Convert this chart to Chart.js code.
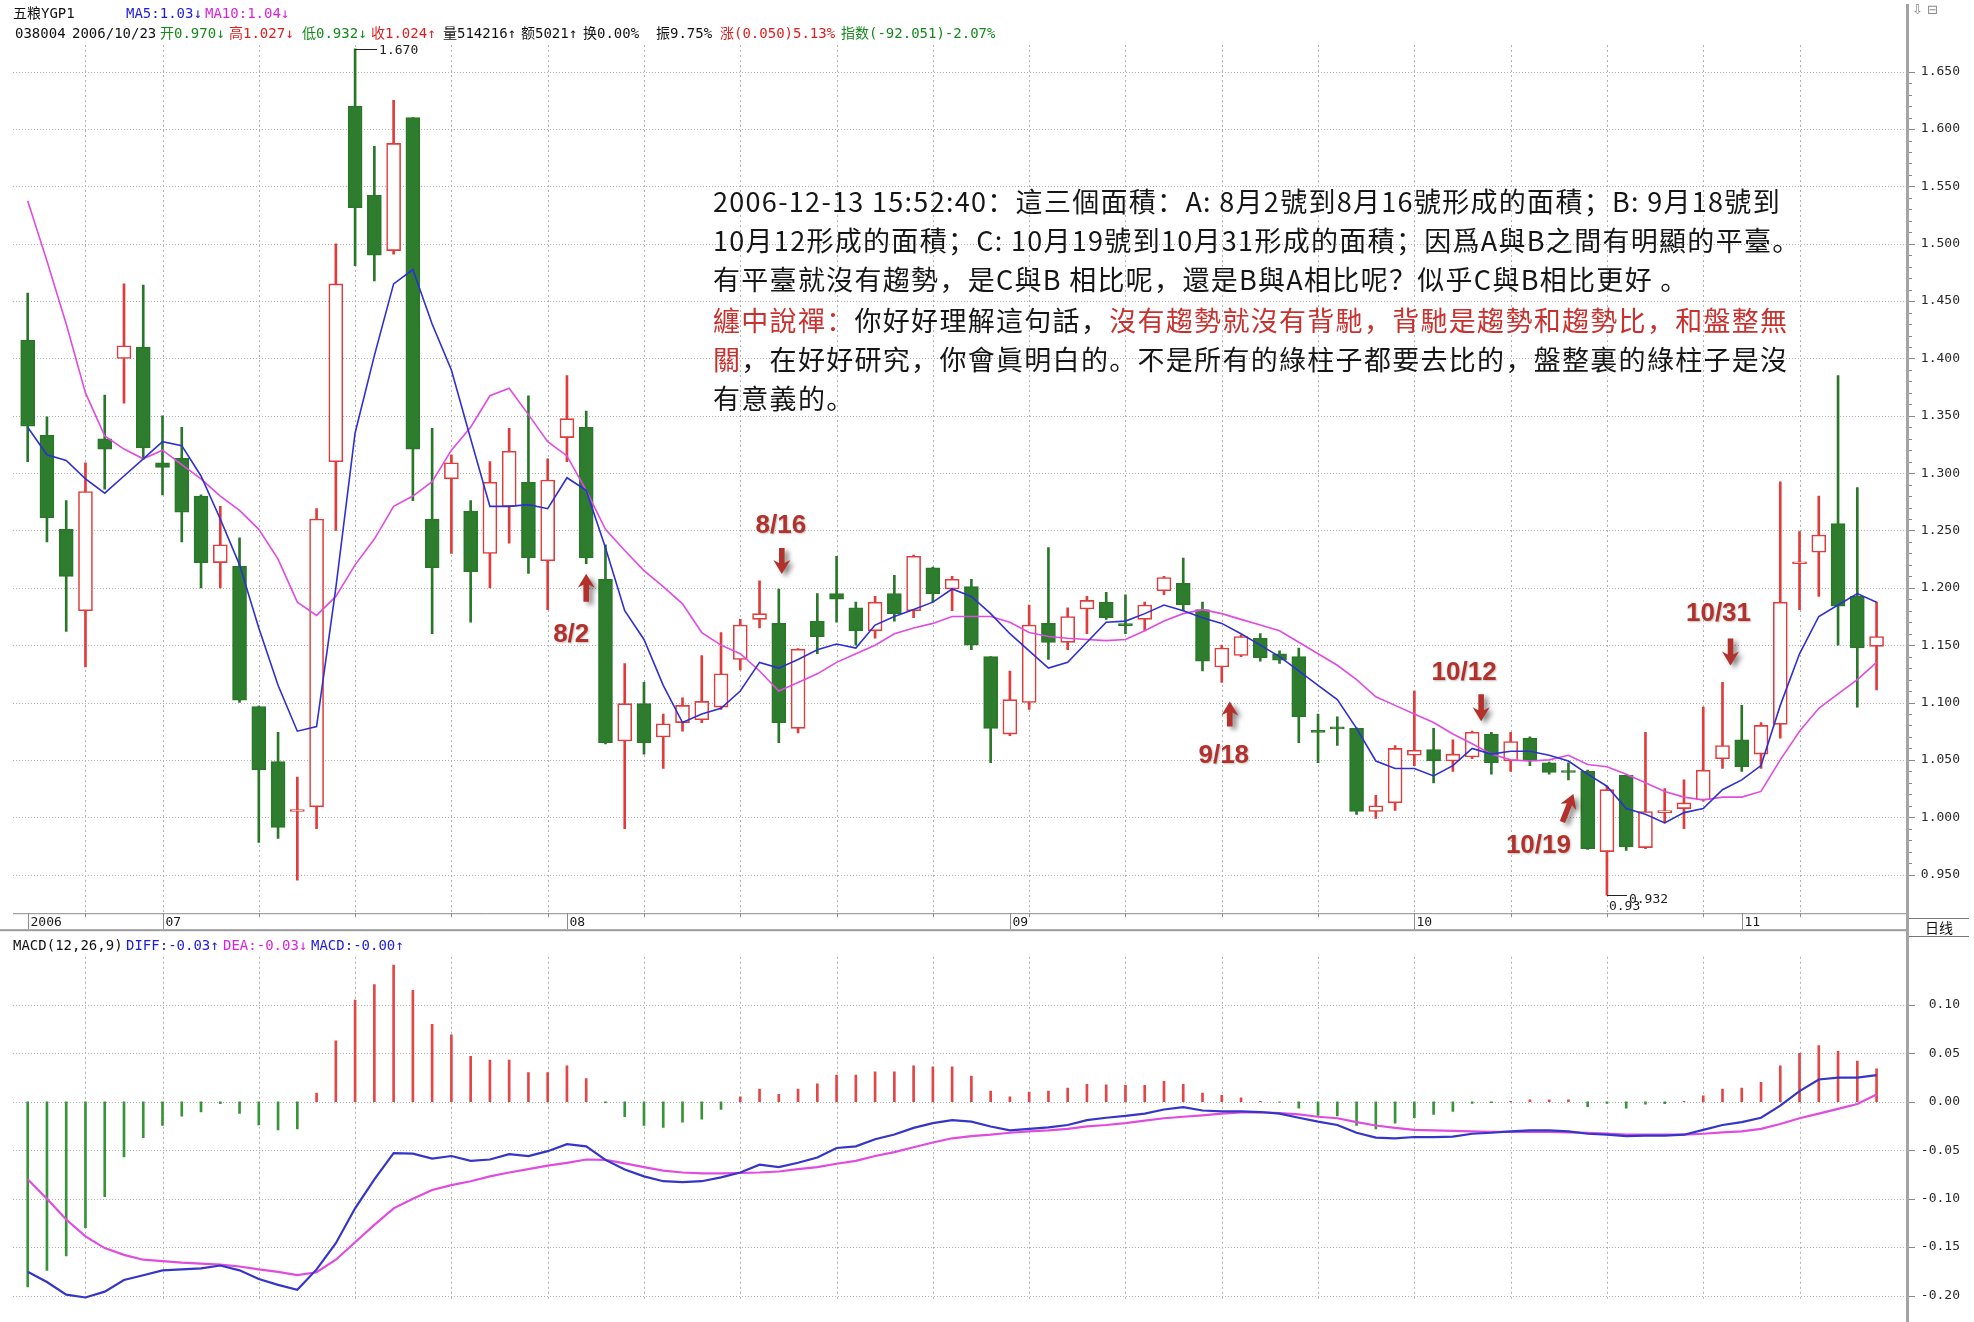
<!DOCTYPE html>
<html lang="zh">
<head>
<meta charset="utf-8">
<title>五粮YGP1 日线 K线与MACD</title>
<script src="https://cdn.jsdelivr.net/npm/chart.js@4.4.1/dist/chart.umd.min.js"></script>
<style>
html,body{margin:0;padding:0;background:#fff;}
#wrap{position:relative;width:1974px;height:1322px;overflow:hidden;background:#fff;}
#cPrice{position:absolute;left:0;top:0;}
#cMacd{position:absolute;left:0;top:935px;}
.t{position:absolute;white-space:nowrap;font-family:"DejaVu Sans Mono","Noto Sans CJK SC",monospace;font-size:14px;line-height:16px;color:#111;}
.note{position:absolute;left:713px;white-space:nowrap;font-family:"Noto Sans CJK TC","Noto Sans CJK SC",sans-serif;font-size:27px;line-height:30px;color:#161616;}
.r{color:#c8312e;}
.blue{color:#1c1cdc;} .mag{color:#dc22dc;} .grn{color:#14891c;} .red{color:#e01e1e;}
#axisLine{position:absolute;left:1906px;top:4px;width:3px;height:1318px;background:#a4a4a4;}
#rixian{position:absolute;left:1909px;top:918px;width:60px;height:17px;border-top:1px solid #777;border-bottom:1px solid #777;font-family:"Noto Sans CJK SC",sans-serif;font-size:14px;line-height:17px;text-align:center;color:#111;}
#icons{position:absolute;left:1912px;top:2px;font-family:"DejaVu Sans",sans-serif;font-size:13px;color:#888;}
</style>
</head>
<body>
<div id="wrap">
<canvas id="cPrice" width="1974" height="935"></canvas>
<canvas id="cMacd" width="1974" height="387"></canvas>

<div id="axisLine"></div>
<div id="icons">⇩ ⊟</div>
<div id="rixian">日线</div>

<div class="t" style="left:13px;top:5px;">五粮YGP1</div>
<div class="t blue" style="left:126px;top:5px;">MA5:1.03↓</div>
<div class="t mag" style="left:205px;top:5px;">MA10:1.04↓</div>

<div class="t" style="left:15px;top:25px;">038004</div>
<div class="t" style="left:72px;top:25px;">2006/10/23</div>
<div class="t grn" style="left:160px;top:25px;">开0.970↓</div>
<div class="t red" style="left:229px;top:25px;">高1.027↓</div>
<div class="t grn" style="left:302px;top:25px;">低0.932↓</div>
<div class="t red" style="left:371px;top:25px;">收1.024↑</div>
<div class="t" style="left:443px;top:25px;">量514216↑</div>
<div class="t" style="left:521px;top:25px;">额5021↑</div>
<div class="t" style="left:583px;top:25px;">换0.00%</div>
<div class="t" style="left:656px;top:25px;">振9.75%</div>
<div class="t red" style="left:720px;top:25px;">涨(0.050)5.13%</div>
<div class="t grn" style="left:841px;top:25px;">指数(-92.051)-2.07%</div>

<div class="t" style="left:13px;top:937px;">MACD(12,26,9)</div>
<div class="t blue" style="left:126px;top:937px;">DIFF:-0.03↑</div>
<div class="t mag" style="left:223px;top:937px;">DEA:-0.03↓</div>
<div class="t blue" style="left:311px;top:937px;">MACD:-0.00↑</div>

<div class="note" id="n1" style="top:186px;">2006-12-13 15:52:40：這三個面積：A: 8月2號到8月16號形成的面積；B: 9月18號到</div>
<div class="note" id="n2" style="top:225px;">10月12形成的面積；C: 10月19號到10月31形成的面積；因爲A與B之間有明顯的平臺。</div>
<div class="note" id="n3" style="top:264px;">有平臺就沒有趨勢，是C與B 相比呢，還是B與A相比呢？似乎C與B相比更好 。</div>
<div class="note" id="n4" style="top:305px;"><span class="r">纏中說禪：</span>你好好理解這句話，<span class="r">沒有趨勢就沒有背馳，背馳是趨勢和趨勢比，和盤整無</span></div>
<div class="note" id="n5" style="top:344px;"><span class="r">關</span>，在好好研究，你會眞明白的。不是所有的綠柱子都要去比的，盤整裏的綠柱子是沒</div>
<div class="note" id="n6" style="top:383px;">有意義的。</div>
</div>

<script>
// ---------------- DATA ----------------
const opens = [1.416,1.333,1.251,1.18,1.33,1.40,1.41,1.309,1.313,1.28,
1.222,1.219,1.0965,1.0485,1.005,1.009,1.31,1.62,1.5425,1.494,
1.61,1.26,1.295,1.267,1.23,1.271,1.292,1.2235,1.331,1.34,
1.2075,1.0665,1.099,1.07,1.0825,1.085,1.096,1.1375,1.1725,1.169,
1.0775,1.171,1.195,1.1825,1.1625,1.195,1.18,1.2175,1.199,1.201,
1.14,1.0725,1.10,1.169,1.1525,1.1815,1.1875,1.168,1.1725,1.1975,
1.204,1.181,1.131,1.141,1.156,1.1425,1.14,1.075,1.078,1.0775,
1.005,1.0125,1.054,1.059,1.049,1.0525,1.0725,1.049,1.069,1.0475,
1.0395,1.04,0.970,1.0365,0.9735,1.004,1.0075,1.015,1.051,1.0675,
1.055,1.081,1.221,1.231,1.256,1.1925,1.149];

const closes = [1.341,1.261,1.21,1.284,1.321,1.411,1.322,1.305,1.266,1.222,
1.2375,1.102,1.0415,0.991,1.006,1.26,1.465,1.5315,1.49,1.5875,
1.321,1.2175,1.309,1.214,1.292,1.319,1.226,1.294,1.3475,1.226,
1.065,1.099,1.065,1.0815,1.0975,1.101,1.125,1.1675,1.1775,1.0825,
1.1465,1.1575,1.19,1.1625,1.1875,1.1775,1.2275,1.195,1.2075,1.15,
1.0775,1.1025,1.1675,1.1525,1.175,1.189,1.174,1.167,1.185,1.209,
1.185,1.136,1.1475,1.1575,1.139,1.137,1.0875,1.074,1.077,1.005,
1.01,1.06,1.0585,1.049,1.055,1.074,1.0475,1.066,1.049,1.039,
1.039,0.9725,1.024,0.974,1.005,1.0045,1.0125,1.041,1.0625,1.044,
1.08,1.1875,1.2215,1.246,1.184,1.1475,1.1575];

const highs = [1.457,1.349,1.276,1.309,1.368,1.465,1.464,1.35,1.34,1.281,
1.271,1.2435,1.097,1.074,1.035,1.269,1.50,1.67,1.585,1.625,
1.61,1.339,1.316,1.276,1.31,1.339,1.3675,1.3125,1.385,1.354,
1.2375,1.134,1.1175,1.09,1.104,1.141,1.161,1.1725,1.206,1.199,
1.147,1.195,1.2275,1.1875,1.1925,1.211,1.2285,1.218,1.21,1.2075,
1.14,1.1275,1.185,1.235,1.1825,1.1925,1.196,1.194,1.1875,1.21,
1.226,1.1875,1.15,1.159,1.16,1.145,1.1475,1.09,1.0875,1.078,
1.019,1.0625,1.11,1.0775,1.0675,1.075,1.074,1.074,1.07,1.048,
1.0475,1.041,1.027,1.037,1.074,1.025,1.0325,1.096,1.1175,1.0975,
1.0825,1.2925,1.249,1.28,1.385,1.2875,1.1875];

const lows = [1.31,1.24,1.162,1.131,1.286,1.361,1.312,1.281,1.24,1.20,
1.20,1.10,0.978,0.9815,0.945,0.99,1.25,1.481,1.4675,1.491,
1.276,1.16,1.23,1.17,1.20,1.239,1.2125,1.181,1.31,1.221,
1.064,0.99,1.055,1.0425,1.075,1.0825,1.094,1.1285,1.165,1.065,
1.0735,1.1425,1.17,1.15,1.156,1.171,1.174,1.1875,1.18,1.146,
1.0475,1.071,1.094,1.1375,1.146,1.16,1.1725,1.16,1.1625,1.194,
1.18,1.1275,1.1175,1.14,1.136,1.134,1.065,1.0475,1.0625,1.0025,
0.999,1.006,1.045,1.03,1.04,1.051,1.0375,1.04,1.045,1.0375,
1.0325,0.972,0.932,0.971,0.9725,0.995,0.99,1.014,1.0425,1.04,
1.0425,1.069,1.181,1.1925,1.15,1.096,1.111];

const ma5 = [1.34,1.316,1.311,1.295,1.2825,1.2975,1.3125,1.3275,1.324,1.2975,
1.26,1.22,1.165,1.115,1.075,1.079,1.20,1.335,1.4025,1.465,
1.4775,1.43,1.39,1.33,1.271,1.271,1.2725,1.269,1.296,1.285,
1.235,1.18,1.155,1.115,1.0825,1.09,1.095,1.11,1.135,1.13,
1.1375,1.146,1.151,1.1475,1.1675,1.175,1.181,1.1875,1.199,1.1925,
1.1775,1.16,1.145,1.13,1.135,1.1525,1.17,1.171,1.1775,1.185,
1.18,1.174,1.169,1.16,1.15,1.14,1.1275,1.115,1.1025,1.0775,
1.049,1.0425,1.0425,1.036,1.045,1.06,1.055,1.0575,1.0575,1.054,
1.049,1.0375,1.027,1.0075,1.0025,0.995,1.004,1.0075,1.024,1.0325,
1.045,1.0975,1.1425,1.175,1.185,1.195,1.1875];

const ma10 = [1.5375,1.485,1.43,1.37,1.3325,1.321,1.3125,1.32,1.3075,1.295,
1.28,1.2675,1.251,1.225,1.1875,1.176,1.1925,1.22,1.2425,1.271,
1.28,1.2925,1.32,1.34,1.3675,1.374,1.351,1.3275,1.315,1.285,
1.251,1.2325,1.215,1.201,1.186,1.161,1.15,1.1425,1.1275,1.11,
1.1175,1.125,1.135,1.1425,1.15,1.16,1.165,1.169,1.175,1.175,
1.175,1.17,1.161,1.1575,1.156,1.155,1.154,1.155,1.1625,1.171,
1.1775,1.181,1.1775,1.1725,1.1675,1.1625,1.1525,1.1425,1.1325,1.12,
1.105,1.0975,1.09,1.0825,1.0725,1.064,1.055,1.05,1.049,1.05,
1.054,1.046,1.044,1.0375,1.03,1.0225,1.0175,1.015,1.0175,1.0175,
1.0225,1.05,1.075,1.095,1.1075,1.12,1.135];

const macdHist = [-0.191,-0.174,-0.159,-0.130,-0.098,-0.057,-0.037,-0.0245,-0.015,-0.0106,
-0.002,-0.012,-0.024,-0.029,-0.028,0.009,0.063,0.105,0.121,0.141,
0.115,0.080,0.069,0.047,0.043,0.043,0.030,0.030,0.037,0.024,
-0.001,-0.0155,-0.0245,-0.0265,-0.021,-0.018,-0.008,0.005,0.013,0.0076,
0.013,0.0185,0.0275,0.0275,0.031,0.031,0.037,0.036,0.036,0.0265,
0.011,0.005,0.010,0.011,0.014,0.018,0.0175,0.017,0.017,0.021,
0.018,0.009,0.0066,0.004,0.0005,-0.0005,-0.0066,-0.014,-0.0146,-0.0245,
-0.028,-0.022,-0.0165,-0.013,-0.010,-0.0017,-0.001,0.0005,0.002,0.002,
0.002,-0.005,-0.0017,-0.0066,-0.0026,-0.002,0.0005,0.006,0.013,0.014,
0.020,0.037,0.050,0.058,0.052,0.042,0.034];

const diffLine = [-0.1755,-0.186,-0.199,-0.202,-0.196,-0.184,-0.179,-0.174,-0.173,-0.172,
-0.169,-0.174,-0.183,-0.189,-0.194,-0.173,-0.146,-0.110,-0.080,-0.053,
-0.0536,-0.0586,-0.056,-0.061,-0.0596,-0.054,-0.056,-0.051,-0.0437,-0.046,
-0.060,-0.070,-0.077,-0.082,-0.083,-0.082,-0.078,-0.073,-0.065,-0.0675,
-0.063,-0.0576,-0.0477,-0.046,-0.0387,-0.0338,-0.027,-0.022,-0.019,-0.0205,
-0.0255,-0.0295,-0.028,-0.0265,-0.024,-0.019,-0.0165,-0.0146,-0.0122,-0.008,
-0.0056,-0.009,-0.010,-0.010,-0.0106,-0.0122,-0.0165,-0.0205,-0.024,-0.032,
-0.037,-0.0377,-0.0364,-0.0364,-0.036,-0.033,-0.032,-0.0305,-0.0295,-0.0295,
-0.0305,-0.033,-0.034,-0.0354,-0.035,-0.035,-0.034,-0.029,-0.024,-0.021,
-0.0165,-0.004,0.011,0.023,0.025,0.025,0.0275];

const deaLine = [-0.080,-0.100,-0.1215,-0.139,-0.151,-0.158,-0.163,-0.1645,-0.166,-0.167,
-0.168,-0.170,-0.173,-0.1755,-0.179,-0.176,-0.163,-0.145,-0.127,-0.110,
-0.100,-0.091,-0.086,-0.082,-0.077,-0.073,-0.0695,-0.066,-0.063,-0.0596,
-0.060,-0.0636,-0.0675,-0.071,-0.073,-0.074,-0.074,-0.0735,-0.073,-0.072,
-0.0695,-0.0675,-0.064,-0.061,-0.056,-0.052,-0.047,-0.042,-0.0377,-0.0354,
-0.034,-0.032,-0.0305,-0.0295,-0.028,-0.0255,-0.024,-0.022,-0.0195,-0.017,
-0.0155,-0.014,-0.0122,-0.011,-0.011,-0.0116,-0.013,-0.0155,-0.017,-0.021,
-0.0245,-0.027,-0.029,-0.0295,-0.030,-0.0305,-0.031,-0.031,-0.031,-0.031,
-0.0315,-0.032,-0.0328,-0.034,-0.034,-0.034,-0.034,-0.033,-0.0315,-0.0305,
-0.028,-0.023,-0.017,-0.0122,-0.0073,-0.0023,0.0076];

const priceTicks = [0.95,1.00,1.05,1.10,1.15,1.20,1.25,1.30,1.35,1.40,1.45,1.50,1.55,1.60,1.65];
const priceTickLabels = ['0.950','1.000','1.050','1.100','1.150','1.200','1.250','1.300','1.350','1.400','1.450','1.500','1.550','1.600','1.650'];
const macdTicks = [-0.20,-0.15,-0.10,-0.05,0.00,0.05,0.10];
const macdTickLabels = ['-0.20','-0.15','-0.10','-0.05','0.00','0.05','0.10'];

const monthLabels = ['2006','07','08','09','10','11'];
const monthStart = [0,7,28,51,72,89];
const gridIdx = [3,7,12,17,22,27,32,37,42,47,52,57,62,67,72,77,82,87,92];

const annoText = ['8/2','8/16','9/18','10/12','10/19','10/31'];
const annoIdx = [29,39,62,75,80,88];
const annoSide = ['low','high','low','high','low','high'];
// style offsets (px) relative to the anchored candle extreme
const annoTip = [[0,10],[3,-15],[8,19],[9,-10],[5,14],[8,-17]];
const annoTail = [[0,38],[3,-41],[8,44],[9,-37],[-6,42],[8,-44]];
const annoLbl = [[-15,71],[2,-63],[2,73],[-8,-58],[-30,66],[-4,-69]];

const peakIdx = 17, troughIdx = 82;

// ---------------- STYLE ----------------
const RED = '#e03c3c', GREEN = '#2a772a', GREEN_FILL = '#2e7c2e';
const ANNO = '#b3312a';
const idx = opens.map((_, i) => i);
const isUp = idx.map(i => closes[i] >= opens[i]);
const toXY = arr => arr.map((v, i) => ({x: i, y: v}));

function xScale() {
  return {type: 'linear', min: -0.763, max: 97.58, offset: false, display: false};
}
function yScale(min, max, ticks, labels, pad) {
  return {
    type: 'linear', position: 'right', min: min, max: max,
    grid: {display: false, drawTicks: false}, border: {display: false},
    afterBuildTicks: s => { s.ticks = ticks.map(v => ({value: v})); },
    afterFit: s => { s.width = 53; },
    ticks: {autoSkip: false, crossAlign: 'far', padding: pad, color: '#2a2a2a',
      font: {family: 'DejaVu Sans Mono', size: 13},
      callback: (v, i) => labels[i]}
  };
}

function drawGrid(chart, yt) {
  const {ctx, chartArea: a, scales: {x, y}} = chart;
  ctx.save();
  ctx.strokeStyle = '#b2b2b2'; ctx.lineWidth = 1;
  ctx.setLineDash([1, 2]);
  yt.forEach(v => {
    const py = Math.round(y.getPixelForValue(v)) + 0.5;
    ctx.beginPath(); ctx.moveTo(a.left, py); ctx.lineTo(a.right, py); ctx.stroke();
  });
  ctx.setLineDash([2, 3]);
  gridIdx.forEach(i => {
    const px = Math.round(x.getPixelForValue(i)) + 0.5;
    ctx.beginPath(); ctx.moveTo(px, a.top); ctx.lineTo(px, a.bottom); ctx.stroke();
  });
  ctx.restore();
}

function drawAxisTicks(chart, yt, minor) {
  const {ctx, chartArea: a, scales: {y}} = chart;
  ctx.save();
  ctx.strokeStyle = '#8a8a8a'; ctx.lineWidth = 1;
  yt.forEach((v, k) => {
    const py = Math.round(y.getPixelForValue(v)) + 0.5;
    ctx.beginPath(); ctx.moveTo(a.right + 2, py); ctx.lineTo(a.right + 8, py); ctx.stroke();
    if (minor && k < yt.length - 1) {
      const step = (yt[k + 1] - v) / 5;
      for (let m = 1; m < 5; m++) {
        const pm = Math.round(y.getPixelForValue(v + step * m)) + 0.5;
        ctx.beginPath(); ctx.moveTo(a.right + 2, pm); ctx.lineTo(a.right + 5, pm); ctx.stroke();
      }
    }
  });
  ctx.restore();
}

function drawArrow(ctx, sx, sy, tx, ty) {
  const ang = Math.atan2(ty - sy, tx - sx);
  const len = Math.hypot(tx - sx, ty - sy);
  ctx.save();
  ctx.translate(tx, ty); ctx.rotate(ang);
  ctx.beginPath();
  ctx.moveTo(0, 0);
  ctx.lineTo(-14, -8.5);
  ctx.lineTo(-11, -2.8);
  ctx.lineTo(-len, -2.8);
  ctx.lineTo(-len, 2.8);
  ctx.lineTo(-11, 2.8);
  ctx.lineTo(-14, 8.5);
  ctx.closePath();
  ctx.fill();
  ctx.restore();
}

const pricePlugin = {
  id: 'priceDeco',
  beforeDatasetsDraw(chart) { drawGrid(chart, priceTicks); },
  afterDatasetsDraw(chart) {
    const {ctx, scales: {x, y}} = chart;
    ctx.save();
    // peak label
    ctx.strokeStyle = '#222'; ctx.lineWidth = 1; ctx.fillStyle = '#222';
    ctx.font = '13px "DejaVu Sans Mono"'; ctx.textBaseline = 'middle'; ctx.textAlign = 'left';
    let px = x.getPixelForValue(peakIdx), py = Math.round(y.getPixelForValue(highs[peakIdx])) + 0.5;
    ctx.beginPath(); ctx.moveTo(px, py); ctx.lineTo(px + 22, py); ctx.stroke();
    ctx.fillText(highs[peakIdx].toFixed(3), px + 24, py + 1);
    // trough label
    px = x.getPixelForValue(troughIdx); py = Math.round(y.getPixelForValue(lows[troughIdx])) + 0.5;
    ctx.beginPath(); ctx.moveTo(px, py); ctx.lineTo(px + 20, py); ctx.stroke();
    ctx.fillText(lows[troughIdx].toFixed(3), px + 22, py + 4);
    ctx.fillText(lows[troughIdx].toFixed(2), px + 2, py + 11);
    // red annotations
    annoText.forEach((t, k) => {
      const i = annoIdx[k];
      const ax = x.getPixelForValue(i);
      const ay = y.getPixelForValue(annoSide[k] === 'low' ? lows[i] : highs[i]);
      ctx.save();
      ctx.fillStyle = ANNO;
      ctx.shadowColor = 'rgba(0,0,0,0.45)'; ctx.shadowBlur = 5; ctx.shadowOffsetX = 4; ctx.shadowOffsetY = 3;
      drawArrow(ctx, ax + annoTail[k][0], ay + annoTail[k][1], ax + annoTip[k][0], ay + annoTip[k][1]);
      ctx.shadowColor = 'rgba(0,0,0,0.25)'; ctx.shadowBlur = 2; ctx.shadowOffsetX = 1; ctx.shadowOffsetY = 1;
      ctx.font = 'bold 26px "Liberation Sans", Arial, sans-serif';
      ctx.textAlign = 'center'; ctx.textBaseline = 'middle';
      ctx.fillText(t, ax + annoLbl[k][0], ay + annoLbl[k][1]);
      ctx.restore();
    });
    ctx.restore();
  },
  afterDraw(chart) {
    const {ctx, chartArea: a, scales: {x}} = chart;
    drawAxisTicks(chart, priceTicks, true);
    ctx.save();
    const yb = a.bottom;
    ctx.strokeStyle = '#8c8c8c'; ctx.lineWidth = 1;
    ctx.beginPath(); ctx.moveTo(a.left, yb + 0.5); ctx.lineTo(a.right, yb + 0.5); ctx.stroke();
    gridIdx.forEach(i => {
      const px = Math.round(x.getPixelForValue(i)) + 0.5;
      ctx.beginPath(); ctx.moveTo(px, yb); ctx.lineTo(px, yb + 4); ctx.stroke();
    });
    ctx.fillStyle = '#1a1a1a'; ctx.font = '13px "DejaVu Sans Mono"';
    ctx.textAlign = 'left'; ctx.textBaseline = 'middle';
    monthLabels.forEach((m, k) => {
      const px = Math.round(x.getPixelForValue(monthStart[k])) + 0.5;
      ctx.beginPath(); ctx.moveTo(px, yb); ctx.lineTo(px, yb + 16); ctx.stroke();
      ctx.fillText(m, px + 2, yb + 9);
    });
    ctx.fillStyle = '#9a9a9a';
    ctx.fillRect(0, yb + 16, a.right, 2);
    ctx.restore();
  }
};

const macdPlugin = {
  id: 'macdDeco',
  beforeDatasetsDraw(chart) { drawGrid(chart, macdTicks); },
  afterDraw(chart) { drawAxisTicks(chart, macdTicks, false); }
};

new Chart(document.getElementById('cPrice'), {
  type: 'bar',
  data: {
    datasets: [
      {type: 'line', label: 'MA5', data: toXY(ma5), borderColor: '#2f2fd2', borderWidth: 1.6,
        pointRadius: 0, tension: 0, order: 1},
      {type: 'line', label: 'MA10', data: toXY(ma10), borderColor: '#e04ce0', borderWidth: 1.6,
        pointRadius: 0, tension: 0, order: 1},
      {type: 'bar', label: 'K', data: idx.map(i => ({x: i, y: [opens[i], closes[i]]})),
        backgroundColor: idx.map(i => isUp[i] ? '#ffffff' : GREEN_FILL),
        borderColor: idx.map(i => isUp[i] ? RED : GREEN),
        borderWidth: 1.6, borderSkipped: false, barThickness: 14, grouped: false,
        minBarLength: 2, order: 2},
      {type: 'bar', label: 'wick', data: idx.map(i => ({x: i, y: [lows[i], highs[i]]})),
        backgroundColor: idx.map(i => isUp[i] ? RED : GREEN),
        borderWidth: 0, barThickness: 2, grouped: false, order: 3}
    ]
  },
  options: {
    responsive: false, animation: false, devicePixelRatio: 1,
    layout: {padding: {left: 13, right: 14, top: 45, bottom: 18}},
    plugins: {legend: {display: false}, tooltip: {enabled: false}},
    scales: {x: xScale(), y: yScale(0.9163, 1.6733, priceTicks, priceTickLabels, 14)}
  },
  plugins: [pricePlugin]
});

new Chart(document.getElementById('cMacd'), {
  type: 'bar',
  data: {
    datasets: [
      {type: 'line', label: 'DIFF', data: toXY(diffLine), borderColor: '#3535c8', borderWidth: 2.2,
        pointRadius: 0, tension: 0, order: 1},
      {type: 'line', label: 'DEA', data: toXY(deaLine), borderColor: '#e04ce0', borderWidth: 2.2,
        pointRadius: 0, tension: 0, order: 1},
      {type: 'bar', label: 'MACD', data: toXY(macdHist),
        backgroundColor: macdHist.map(v => v >= 0 ? '#e24646' : '#389438'),
        barThickness: 2, grouped: false, order: 2}
    ]
  },
  options: {
    responsive: false, animation: false, devicePixelRatio: 1,
    layout: {padding: {left: 13, right: 14, top: 16, bottom: 18}},
    plugins: {legend: {display: false}, tooltip: {enabled: false}},
    scales: {x: xScale(), y: yScale(-0.2048, 0.1496, macdTicks, macdTickLabels, 14)}
  },
  plugins: [macdPlugin]
});

// fit annotation text width
function fitNotes() {
  const n1 = document.getElementById('n1');
  document.querySelectorAll('.note').forEach(el => el.style.letterSpacing = '0px');
  const w = n1.getBoundingClientRect().width;
  const n = Array.from(n1.textContent).length;
  const ls = (1068 - w) / n;
  document.querySelectorAll('.note').forEach(el => el.style.letterSpacing = ls.toFixed(2) + 'px');
}
fitNotes();
if (document.fonts && document.fonts.ready) document.fonts.ready.then(fitNotes);
</script>
</body>
</html>
